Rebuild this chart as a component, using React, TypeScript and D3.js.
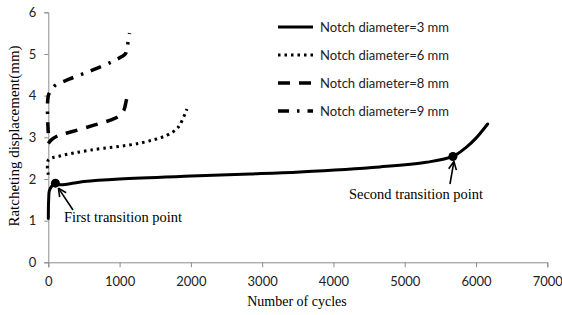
import { useEffect, useRef } from 'react';
import * as d3 from 'd3';

type Pt = [number, number];

// cycles, ratcheting displacement (mm)
const notch3: Pt[] = [
  [0, 1.05], [5, 1.5], [15, 1.72], [50, 1.83], [100, 1.9], [160, 1.86], [500, 1.94],
  [1000, 2.0], [2000, 2.07], [2830, 2.12], [3530, 2.17], [4650, 2.29], [5300, 2.4],
  [5676, 2.54], [5870, 2.77], [6000, 2.98], [6163, 3.32]
];
const notch6: Pt[] = [
  [0, 2.1], [0, 2.45], [160, 2.55], [585, 2.69], [1286, 2.86], [1665, 3.05],
  [1800, 3.2], [1847, 3.3], [1945, 3.68]
];
const notch8: Pt[] = [
  [0, 2.85], [50, 2.95], [150, 3.05], [300, 3.12], [500, 3.22], [700, 3.32],
  [900, 3.43], [1000, 3.52], [1060, 3.65], [1090, 3.85], [1120, 4.1]
];
const notch9: Pt[] = [
  [0, 3.1], [0, 4.0], [50, 4.15], [100, 4.25], [300, 4.4], [600, 4.6], [900, 4.82],
  [1080, 5.0], [1100, 5.1], [1120, 5.3], [1140, 5.5]
];

const seriesLabels = ['Notch diameter=3 mm', 'Notch diameter=6 mm', 'Notch diameter=8 mm', 'Notch diameter=9 mm'];
const xTicks = [0, 1000, 2000, 3000, 4000, 5000, 6000, 7000];
const yTicks = [0, 1, 2, 3, 4, 5, 6];
const transitions: Pt[] = [[100, 1.9], [5676, 2.54]];

export default function App() {
  const svgRef = useRef<SVGSVGElement>(null);

  useEffect(() => {
    if (!svgRef.current) return;
    const svg = d3.select(svgRef.current);
    svg.selectAll('*').remove();

    const width = 562;
    const height = 315;
    svg.attr('width', width).attr('height', height);

    const xScale = d3.scaleLinear().domain([0, 7000]).range([48.3, 547.3]);
    const yScale = d3.scaleLinear().domain([0, 6]).range([262.3, 12.3]);

    const axisColor = '#8c8c8c';
    const tickFont = 'Lato, "Open Sans", sans-serif';
    const serif = '"Liberation Serif", "Times New Roman", serif';

    // Y axis
    const yAxis = svg.append('g')
      .attr('transform', `translate(${xScale(0)},0)`)
      .call(d3.axisLeft(yScale).tickValues(yTicks).tickSize(4).tickPadding(8).tickFormat(d3.format('d')));
    yAxis.select('.domain').attr('stroke', axisColor);
    yAxis.selectAll('line').attr('stroke', axisColor);
    yAxis.selectAll('text')
      .style('font-family', tickFont)
      .style('font-size', '13px')
      .attr('fill', '#222');

    // X axis
    const xAxis = svg.append('g')
      .attr('transform', `translate(0,${yScale(0)})`)
      .call(d3.axisBottom(xScale).tickValues(xTicks).tickSize(5).tickPadding(9).tickFormat(d3.format('d')));
    xAxis.select('.domain').attr('stroke', axisColor);
    xAxis.selectAll('line').attr('stroke', axisColor);
    xAxis.selectAll('text')
      .style('font-family', tickFont)
      .style('font-size', '13px')
      .attr('fill', '#222');

    // Axis titles
    svg.append('text')
      .attr('x', 297)
      .attr('y', 306)
      .attr('text-anchor', 'middle')
      .style('font-family', serif)
      .style('font-size', '14px')
      .text('Number of cycles');

    svg.append('text')
      .attr('transform', 'translate(19,136) rotate(-90)')
      .attr('text-anchor', 'middle')
      .style('font-family', serif)
      .style('font-size', '15px')
      .text('Ratcheting displacement(mm)');

    const line = d3.line<Pt>()
      .x(d => xScale(d[0]))
      .y(d => yScale(d[1]))
      .curve(d3.curveCatmullRom.alpha(0.5));

    const styles = [
      { data: notch3, dash: 'none', w: 3, cap: 'round' },
      { data: notch6, dash: '2.5,4', w: 3, cap: 'butt' },
      { data: notch8, dash: '12,9', w: 3.5, cap: 'butt' },
      { data: notch9, dash: '11,8,2.5,8', w: 3.5, cap: 'butt' }
    ];

    styles.forEach(s => {
      svg.append('path')
        .datum(s.data)
        .attr('fill', 'none')
        .attr('stroke', '#000')
        .attr('stroke-width', s.w)
        .attr('stroke-dasharray', s.dash)
        .attr('stroke-linecap', s.cap)
        .attr('d', line);
    });

    // Transition points
    svg.selectAll('.tp')
      .data(transitions)
      .enter().append('circle')
      .attr('cx', d => xScale(d[0]))
      .attr('cy', d => yScale(d[1]))
      .attr('r', 4.5)
      .attr('fill', '#000');

    // Arrows
    const arrow = (x1: number, y1: number, x2: number, y2: number) => {
      svg.append('line')
        .attr('x1', x1).attr('y1', y1).attr('x2', x2).attr('y2', y2)
        .attr('stroke', '#000').attr('stroke-width', 1.6);
      const ang = Math.atan2(y2 - y1, x2 - x1);
      const len = 9;
      [0.45, -0.45].forEach(a => {
        svg.append('line')
          .attr('x1', x2).attr('y1', y2)
          .attr('x2', x2 - len * Math.cos(ang + a))
          .attr('y2', y2 - len * Math.sin(ang + a))
          .attr('stroke', '#000').attr('stroke-width', 1.6);
      });
    };
    arrow(73, 210, xScale(100) + 3, yScale(1.9) + 5);
    arrow(450, 184, xScale(5676) + 1, yScale(2.54) + 5);

    svg.append('text')
      .attr('x', 64).attr('y', 222)
      .style('font-family', serif)
      .style('font-size', '14px')
      .attr('textLength', 118)
      .attr('lengthAdjust', 'spacingAndGlyphs')
      .text('First transition point');

    svg.append('text')
      .attr('x', 349).attr('y', 199)
      .style('font-family', serif)
      .style('font-size', '14px')
      .attr('textLength', 134)
      .attr('lengthAdjust', 'spacingAndGlyphs')
      .text('Second transition point');

    // Legend
    const legend = svg.append('g');
    seriesLabels.forEach((label, i) => {
      const yy = 27 + i * 28;
      const s = styles[i];
      legend.append('line')
        .attr('x1', 278).attr('x2', 313)
        .attr('y1', yy).attr('y2', yy)
        .attr('stroke', '#000')
        .attr('stroke-width', s.w)
        .attr('stroke-dasharray', s.dash);
      legend.append('text')
        .attr('x', 320).attr('y', yy)
        .attr('dy', '0.35em')
        .style('font-family', tickFont)
        .style('font-size', '13px')
        .attr('fill', '#222')
        .attr('textLength', 129)
        .attr('lengthAdjust', 'spacingAndGlyphs')
        .text(label);
    });
  }, []);

  return (
    <div style={{ position: 'absolute', left: 0, top: 0, background: '#fff' }}>
      <svg ref={svgRef}></svg>
    </div>
  );
}
